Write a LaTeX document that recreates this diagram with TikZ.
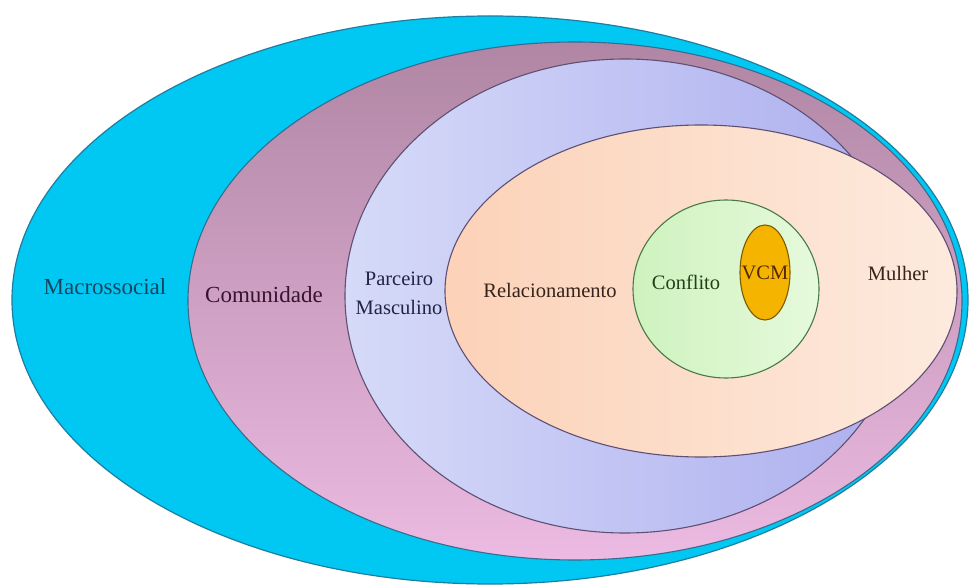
\documentclass[tikz,border=0pt]{standalone}
\usepackage{fontspec}
\setmainfont{Liberation Serif}
\definecolor{cBlue}{RGB}{0,200,242}
\definecolor{cBlueEdge}{RGB}{30,125,160}
\definecolor{cEdge}{RGB}{95,80,115}
\definecolor{cMauveT}{RGB}{176,134,164}
\definecolor{cMauveB}{RGB}{236,186,226}
\definecolor{cLavL}{RGB}{214,218,248}
\definecolor{cLavR}{RGB}{172,174,238}
\definecolor{cPeachL}{RGB}{252,210,184}
\definecolor{cPeachR}{RGB}{253,234,222}
\definecolor{cGreenL}{RGB}{206,242,190}
\definecolor{cGreenR}{RGB}{230,250,220}
\definecolor{cOrange}{RGB}{245,180,0}
\definecolor{tBlue}{RGB}{20,70,100}
\definecolor{tMaroon}{RGB}{55,20,45}
\definecolor{tNavy}{RGB}{35,35,70}
\definecolor{tBrown}{RGB}{55,35,25}
\definecolor{tGreen}{RGB}{35,65,25}
\definecolor{tVCM}{RGB}{85,40,0}
\tikzset{
  edge/.style={draw=cEdge, line width=1.1pt},
  biglabel/.style={font=\fontsize{23}{27}\selectfont, inner sep=0pt},
  label/.style={font=\fontsize{20.5}{29}\selectfont, inner sep=0pt, align=center}
}
\begin{document}
\begin{tikzpicture}[x=1pt,y=-1pt]
\useasboundingbox (0,0) rectangle (970,585);
\fill[white] (0,0) rectangle (970,585);
% Macrossocial
\fill[cBlue] (490,300) ellipse [x radius=478pt, y radius=284pt];
\draw[cBlueEdge, line width=1.2pt] (490,300) ellipse [x radius=478pt, y radius=284pt];
% Comunidade
\shade[top color=cMauveT, bottom color=cMauveB] (575,301) ellipse [x radius=387pt, y radius=259pt];
\draw[edge, draw=cBlueEdge!60!cEdge] (575,301) ellipse [x radius=387pt, y radius=259pt];
% Parceiro Masculino
\shade[left color=cLavL, right color=cLavR] (625,296) ellipse [x radius=280pt, y radius=237pt];
\draw[edge] (625,296) ellipse [x radius=280pt, y radius=237pt];
% Relacionamento
\shade[left color=cPeachL, right color=cPeachR] (701,291) ellipse [x radius=256pt, y radius=166pt];
\draw[edge] (701,291) ellipse [x radius=256pt, y radius=166pt];
% Conflito
\shade[left color=cGreenL, right color=cGreenR] (726,289) ellipse [x radius=93pt, y radius=89pt];
\draw[draw=gray!70!black!80!green, line width=1.1pt] (726,289) ellipse [x radius=93pt, y radius=89pt];
% VCM
\fill[cOrange] (765,272.5) ellipse [x radius=25pt, y radius=47.5pt];
\draw[draw=black!50!cOrange, line width=1.1pt] (765,272.5) ellipse [x radius=25pt, y radius=47.5pt];
% labels
\node[biglabel, text=tBlue] (macro) at (105,287) {Macrossocial};
\node[biglabel, text=tMaroon] (comu) at (264,295) {Comunidade};
\node[label, text=tNavy] (parc) at (399,293) {Parceiro\\Masculino};
\node[label, text=tBrown] (rel) at (550,290) {Relacionamento};
\node[label, text=tGreen] (conf) at (686,282) {Conflito};
\node[label, text=tVCM] (vcm) at (765,273) {VCM};
\node[label, text=tBrown] (mul) at (898,273) {Mulher};
\end{tikzpicture}
\end{document}
